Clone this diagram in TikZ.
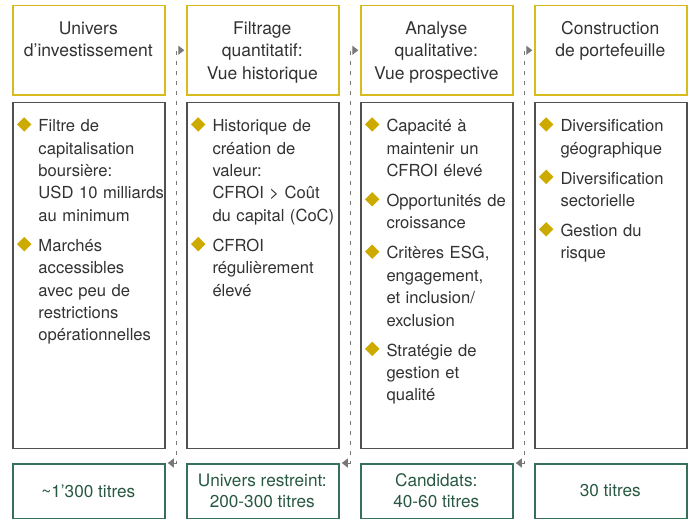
\documentclass[tikz,border=0pt]{standalone}
\usepackage{fontspec}
\usepackage{graphicx}
\setmainfont{TeX Gyre Heros}
\usetikzlibrary{arrows.meta}
\hyphenpenalty=10000
\exhyphenpenalty=10000
\definecolor{hgold}{RGB}{216,188,30}
\definecolor{bgold}{RGB}{204,170,0}
\definecolor{boxgray}{RGB}{80,80,80}
\definecolor{tgray}{RGB}{50,50,50}
\definecolor{grn}{RGB}{55,112,88}
\definecolor{grntext}{RGB}{40,88,66}
\definecolor{conngray}{RGB}{120,120,120}
\newcommand{\bul}{\makebox[26pt][l]{\hspace{4.5pt}\raisebox{0pt}{\color{bgold}\rotatebox{45}{\rule{10.2pt}{10.2pt}}}}}
\newcommand{\nl}{\unskip\hfil\break}
\newcommand{\itm}[1]{\noindent\hangindent=26pt\hangafter=1\relax\bul#1\par}
\newcommand{\gap}{\vspace{7.6pt}}
\tikzset{
  hdrbox/.style={draw=hgold, line width=1.5pt, minimum width=152pt, minimum height=89pt, anchor=north west, inner sep=0pt},
  contbox/.style={draw=boxgray, line width=1.2pt, minimum width=152pt, minimum height=346.5pt, anchor=north west, inner sep=0pt},
  grnbox/.style={draw=grn, line width=1.5pt, minimum width=152pt, minimum height=54.5pt, anchor=north west, inner sep=0pt},
  hdrtext/.style={align=center, anchor=base, font=\fontsize{17.5}{22.6}\selectfont, text=tgray, inner sep=0pt},
  listtext/.style={text width=175pt, align=left, anchor=base west, font=\fontsize{16.6}{22.4}\selectfont, text=tgray, inner sep=0pt},
  grntxt/.style={align=center, font=\fontsize{17.2}{21}\selectfont, text=grntext, inner sep=0pt},
  conn/.style={draw=conngray, line width=1pt, dash pattern=on 4.5pt off 5.5pt,
    {Triangle[length=6pt,width=9pt]}-{Triangle[length=6pt,width=9pt]}}
}
\begin{document}
\begin{tikzpicture}[x=1pt,y=-1pt]
\useasboundingbox (0,0) rectangle (688,519);
% column 1
\node[hdrbox] (h1) at (12.3,5) {};
\node[contbox] (c1) at (12.3,101.5) {};
\node[grnbox] (g1) at (12.3,463) {};
\node[hdrtext] (h1t) at (88.3,56.9) {Univers\\d’investissement};
\node[listtext] (c1t) at (12.3,131.7) {%
\itm{Filtre de\nl capitalisation\nl boursière:\nl USD 10 milliards\nl au minimum}\gap
\itm{Marchés\nl accessibles\nl avec peu de\nl restrictions\nl opérationnelles}};
\node[grntxt] (g1t) at (88.3,491) {\textasciitilde1’300 titres};
% column 2
\node[hdrbox] (h2) at (186.3,5) {};
\node[contbox] (c2) at (186.3,101.5) {};
\node[grnbox] (g2) at (186.3,463) {};
\node[hdrtext] (h2t) at (262.3,79.5) {Filtrage\\quantitatif:\\Vue historique};
\node[listtext] (c2t) at (186.3,131.7) {%
\itm{Historique de\nl création de\nl valeur:\nl CFROI > Coût\nl du capital (CoC)}\gap
\itm{CFROI\nl régulièrement\nl élevé}};
\node[grntxt] (g2t) at (262.3,491) {Univers restreint:\\200-300 titres};
% column 3
\node[hdrbox] (h3) at (360.3,5) {};
\node[contbox] (c3) at (360.3,101.5) {};
\node[grnbox] (g3) at (360.3,463) {};
\node[hdrtext] (h3t) at (436.3,79.5) {Analyse\\qualitative:\\Vue prospective};
\node[listtext] (c3t) at (360.3,131.7) {%
\itm{Capacité à\nl maintenir un\nl CFROI élevé}\gap
\itm{Opportunités de\nl croissance}\gap
\itm{Critères ESG,\nl engagement,\nl et inclusion/\nl exclusion}\gap
\itm{Stratégie de\nl gestion et\nl qualité}};
\node[grntxt] (g3t) at (436.3,491) {Candidats:\\40-60 titres};
% column 4
\node[hdrbox] (h4) at (534.3,5) {};
\node[contbox] (c4) at (534.3,101.5) {};
\node[grnbox] (g4) at (534.3,463) {};
\node[hdrtext] (h4t) at (610.3,56.9) {Construction\\de portefeuille};
\node[listtext] (c4t) at (534.3,131.7) {%
\itm{Diversification\nl géographique}\gap
\itm{Diversification\nl sectorielle}\gap
\itm{Gestion du\nl risque}};
\node[grntxt] (g4t) at (610.3,491) {30 titres};
% connectors
\draw[conn] ([xshift=2pt]g1.north east) -- ++(8.2,0) |- ([xshift=-2pt]h2.west);
\draw[conn] ([xshift=2pt]g2.north east) -- ++(8.2,0) |- ([xshift=-2pt]h3.west);
\draw[conn] ([xshift=2pt]g3.north east) -- ++(8.2,0) |- ([xshift=-2pt]h4.west);
\end{tikzpicture}
\end{document}
